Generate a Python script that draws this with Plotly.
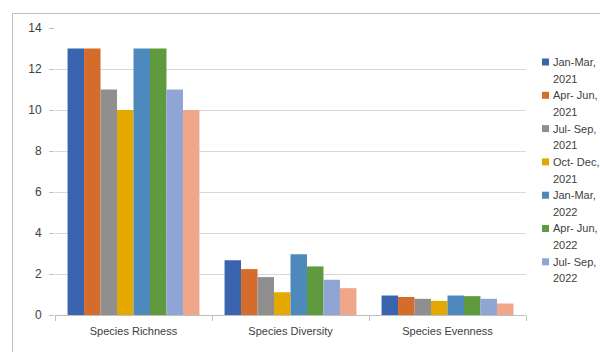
import plotly.graph_objects as go

categories = ["Species Richness", "Species Diversity", "Species Evenness"]
series_names = ["Jan-Mar, 2021", "Apr- Jun, 2021", "Jul- Sep, 2021", "Oct- Dec, 2021",
                "Jan-Mar, 2022", "Apr- Jun, 2022", "Jul- Sep, 2022", "Oct- Dec, 2022"]
jan_mar_2021 = [13, 2.67, 0.95]
apr_jun_2021 = [13, 2.24, 0.88]
jul_sep_2021 = [11, 1.85, 0.79]
oct_dec_2021 = [10, 1.11, 0.69]
jan_mar_2022 = [13, 2.96, 0.95]
apr_jun_2022 = [13, 2.37, 0.92]
jul_sep_2022 = [11, 1.72, 0.79]
oct_dec_2022 = [10, 1.31, 0.56]
series_values = [jan_mar_2021, apr_jun_2021, jul_sep_2021, oct_dec_2021,
                 jan_mar_2022, apr_jun_2022, jul_sep_2022, oct_dec_2022]
colors = ["#3A64AE", "#D46C2B", "#8F8F8F", "#E3A900", "#4D89BD", "#5F9A3F", "#8FA5D6", "#F0A688"]
y_ticks = [0, 2, 4, 6, 8, 10, 12, 14]
legend_shown = 7  # the last entry is cut off in the original

fig = go.Figure()
for name, vals, col in zip(series_names, series_values, colors):
    fig.add_trace(go.Bar(x=categories, y=vals, name=name,
                         marker=dict(color=col, line=dict(width=0)), showlegend=False))

W, H = 600, 352
L, R, T, B = 55, 74, 28, 37
pw, ph = W - L - R, H - T - B

def px(x):
    return (x - L) / pw

def py(y):
    return (H - B - y) / ph

shapes = [
    dict(type="line", xref="paper", yref="paper", x0=px(12.5), x1=px(12.5), y0=py(13.5), y1=py(352),
         line=dict(color="#bfbfbf", width=1)),
    dict(type="line", xref="paper", yref="paper", x0=px(12.5), x1=px(600), y0=py(13.5), y1=py(13.5),
         line=dict(color="#bfbfbf", width=1)),
]
annotations = []
leg_x_sq, leg_x_txt, leg_y0, pitch, line_gap = 542, 551, 62, 33.3, 16.7
for i in range(legend_shown):
    yc = leg_y0 + i * pitch
    shapes.append(dict(type="rect", xref="paper", yref="paper", x0=px(leg_x_sq), x1=px(leg_x_sq + 7),
                       y0=py(yc - 3.5), y1=py(yc + 3.5), fillcolor=colors[i], line=dict(width=0)))
    first, second = series_names[i].split(" 20")
    for j, txt in enumerate([first, "20" + second]):
        annotations.append(dict(xref="paper", yref="paper", x=px(leg_x_txt), y=py(yc + j * line_gap),
                                xanchor="left", yanchor="middle", showarrow=False, text=txt,
                                font=dict(size=11, color="#404040")))

fig.update_layout(
    width=W, height=H,
    margin=dict(l=L, r=R, t=T, b=B, autoexpand=False),
    paper_bgcolor="white", plot_bgcolor="white",
    barmode="group", bargap=0.16, bargroupgap=0,
    showlegend=False,
    font=dict(family="Liberation Sans, Arial, sans-serif", size=11, color="#404040"),
    xaxis=dict(tickson="boundaries", ticks="outside", ticklen=5, tickcolor="#bfbfbf",
               showline=True, linecolor="#bfbfbf", linewidth=1, showgrid=False,
               ticklabelstandoff=6, tickfont=dict(size=11, color="#404040")),
    yaxis=dict(range=[0, 14], tickvals=y_ticks, showgrid=True, gridcolor="#d9d9d9", gridwidth=1,
               ticks="outside", ticklen=5, tickcolor="#bfbfbf", showline=False, zeroline=False,
               ticklabelstandoff=5, tickfont=dict(size=12, color="#404040")),
    shapes=shapes,
    annotations=annotations,
)

fig.write_html("out.html")
